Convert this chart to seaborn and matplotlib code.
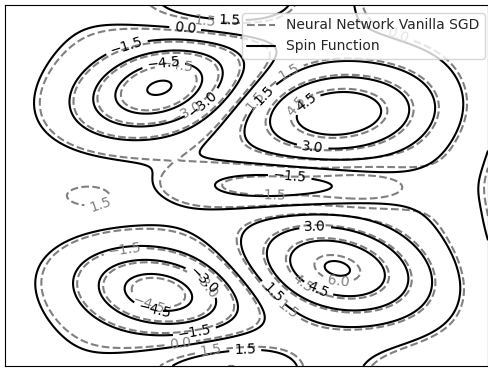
import numpy as np
import matplotlib
matplotlib.use("Agg")
import matplotlib.pyplot as plt
from matplotlib.lines import Line2D
import seaborn as sns

# Landscape components on x in [0, 4], y in [0, 3]:
# two wells, two peaks, central trough, right-edge and corner dips,
# left-edge ridge, left hump, top and bottom humps
spin_cx = [1.29, 1.28, 2.76, 2.75, 2.28, 4.30, 3.50, 3.50, -0.10, 0.75, 1.81, 1.86]
spin_cy = [2.31, 0.61, 2.10, 0.81, 1.50, 1.50, 3.20, -0.20, 1.50, 1.45, 3.05, -0.05]
spin_amp = [-6.25, -5.5, 5.6, 6.15, -3.0, -2.2, -1.0, -1.0, 0.8, 0.95, 3.0, 3.0]
spin_sx = [0.49, 0.48, 0.55, 0.52, 0.60, 0.42, 0.40, 0.40, 0.45, 0.60, 0.49, 0.49]
spin_sy = [0.26, 0.25, 0.27, 0.28, 0.13, 1.30, 0.35, 0.35, 1.30, 0.30, 0.215, 0.215]
spin_tilt = [14, -10, 4, -12, 0, 0, 0, 0, 0, 0, 0, 0]

# network fit: shallower wells, taller peaks and humps, a longer trough
# tail, a small extra bump on the left and a slight overall lift
nn_cx = [1.29, 1.28, 2.76, 2.75, 2.28, 4.30, 3.50, 3.50, -0.10, 0.75, 1.79, 1.84, 3.00, 0.75, 2.0]
nn_cy = [2.31, 0.61, 2.10, 0.81, 1.50, 1.50, 3.20, -0.20, 1.50, 1.45, 3.05, -0.05, 1.49, 1.41, 1.5]
nn_amp = [-6.0, -5.3, 5.8, 6.3, -3.0, -2.2, -1.0, -1.0, 0.8, 0.95, 3.2, 3.2, -1.8, 0.75, 0.15]
nn_sx = [0.49, 0.48, 0.55, 0.52, 0.60, 0.42, 0.40, 0.40, 0.45, 0.60, 0.49, 0.49, 0.30, 0.16, 50.0]
nn_sy = [0.26, 0.25, 0.27, 0.28, 0.13, 1.30, 0.35, 0.35, 1.30, 0.30, 0.215, 0.215, 0.12, 0.08, 50.0]
nn_tilt = [14, -10, 4, -12, 0, 0, 0, 0, 0, 0, 0, 0, 0, 0, 0]

levels = [-6.0, -4.5, -3.0, -1.5, 0.0, 1.5, 3.0, 4.5, 6.0]

# Where each contour label sits (level, x, y)
spin_labels = [(0.0, 1.49, 2.78), (-1.5, 0.99, 2.71), (-4.5, 1.31, 2.54),
               (-3.0, 1.66, 2.15), (1.5, 1.86, 2.86), (1.5, 2.19, 2.21),
               (4.5, 2.48, 2.21), (3.0, 2.55, 1.84), (-1.5, 2.36, 1.59),
               (3.0, 2.57, 1.11), (4.5, 2.59, 0.63), (1.5, 2.24, 0.63),
               (-3.0, 1.66, 0.73), (-4.5, 1.23, 0.42), (-1.5, 1.57, 0.28),
               (1.5, 1.99, 0.12)]
nn_labels = [(1.5, 1.66, 2.88), (-4.5, 1.42, 2.50), (-3.0, 1.49, 2.13),
             (1.5, 1.91, 2.34), (1.5, 2.32, 2.50), (4.5, 2.36, 2.21),
             (0.0, 3.23, 2.69), (-1.5, 2.19, 1.40), (1.5, 0.79, 1.34),
             (-1.5, 0.99, 0.99), (-3.0, 1.68, 0.70), (-4.5, 1.18, 0.47),
             (0.0, 1.45, 0.20), (1.5, 1.70, 0.15), (6.0, 2.76, 0.71),
             (4.5, 2.47, 0.70), (1.5, 2.36, 0.49)]

x = np.linspace(0, 4, 481)
y = np.linspace(0, 3, 361)
X, Y = np.meshgrid(x, y)


def surface(cx, cy, amp, sx, sy, tilt):
    Z = np.zeros_like(X)
    for x0, y0, a, wx, wy, t in zip(cx, cy, amp, sx, sy, tilt):
        th = np.deg2rad(t)
        dx, dy = X - x0, Y - y0
        u = dx * np.cos(th) + dy * np.sin(th)
        v = -dx * np.sin(th) + dy * np.cos(th)
        Z += a * np.exp(-(u ** 2 / (2 * wx ** 2) + v ** 2 / (2 * wy ** 2)))
    return Z


def fmt(v):
    return f"{v:.1f}".replace("-", "\u2212")


def draw_levels(ax, Z, spec, color, style):
    # one contour set per level, so each label lands on its own level
    for lev in levels:
        if not (Z.min() < lev < Z.max()):
            continue
        cs = ax.contour(X, Y, Z, levels=[lev], colors=color,
                        linestyles=style, linewidths=1.5)
        pts = [(px, py) for (l, px, py) in spec if l == lev]
        if pts and len(cs.allsegs[0]) > 0:
            cs.clabel(manual=pts, inline=True, fontsize=10, colors=color,
                      fmt=fmt)


Z_spin = surface(spin_cx, spin_cy, spin_amp, spin_sx, spin_sy, spin_tilt)
Z_nn = surface(nn_cx, nn_cy, nn_amp, nn_sx, nn_sy, nn_tilt)

sns.set_style("white")
fig = plt.figure(figsize=(4.89, 3.70), dpi=100)
ax = fig.add_axes([5 / 489, 4 / 370, 483 / 489, 361 / 370])

draw_levels(ax, Z_nn, nn_labels, "gray", "--")
draw_levels(ax, Z_spin, spin_labels, "black", "-")

ax.set_xlim(0, 4)
ax.set_ylim(0, 3)
ax.set_xticks([])
ax.set_yticks([])
for s in ax.spines.values():
    s.set_color("black")
    s.set_linewidth(0.8)

handles = [Line2D([], [], color="gray", linestyle="--", linewidth=1.5),
           Line2D([], [], color="black", linestyle="-", linewidth=1.5)]
ax.legend(handles, ["Neural Network Vanilla SGD", "Spin Function"],
          loc="upper right", bbox_to_anchor=(0.994, 0.978),
          borderaxespad=0, fontsize=10)

fig.savefig("out.png", dpi=100)
